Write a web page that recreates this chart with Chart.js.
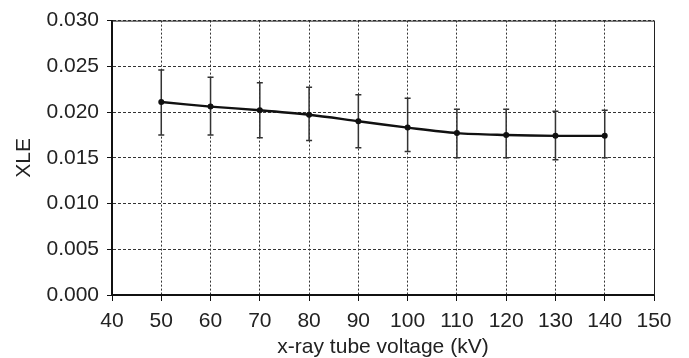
<!DOCTYPE html>
<html>
<head>
<meta charset="utf-8">
<script src="https://cdn.jsdelivr.net/npm/chart.js@4.4.1/dist/chart.umd.min.js"></script>
<style>
  html, body { margin: 0; padding: 0; background: #fff; }
  #wrap { width: 689px; height: 358px; }
</style>
</head>
<body>
<div id="wrap"><canvas id="c" width="689" height="358"></canvas></div>
<script>
// Data
const voltages = [50, 60, 70, 80, 90, 100, 110, 120, 130, 140];
const xleMean  = [0.0211, 0.0206, 0.0202, 0.0197, 0.0190, 0.0183, 0.0177, 0.0175, 0.0174, 0.0174];
const xleUpper = [0.0246, 0.0238, 0.0232, 0.0227, 0.0219, 0.0215, 0.0203, 0.0203, 0.0201, 0.0202];
const xleLower = [0.0175, 0.0175, 0.0172, 0.0169, 0.0161, 0.0157, 0.0150, 0.0150, 0.0148, 0.0150];
const xTicks = [40, 50, 60, 70, 80, 90, 100, 110, 120, 130, 140, 150];
const yTicks = [0.000, 0.005, 0.010, 0.015, 0.020, 0.025, 0.030];

const points = voltages.map((v, i) => ({ x: v, y: xleMean[i] }));

const errorBars = {
  id: 'errorBars',
  beforeDatasetsDraw(chart) {
    const { ctx, scales: { x, y } } = chart;
    ctx.save();
    ctx.strokeStyle = '#333';
    ctx.lineWidth = 1.5;
    voltages.forEach((v, i) => {
      const px = x.getPixelForValue(v);
      const pt = y.getPixelForValue(xleUpper[i]);
      const pb = y.getPixelForValue(xleLower[i]);
      ctx.beginPath();
      ctx.moveTo(px, pt); ctx.lineTo(px, pb);
      ctx.moveTo(px - 3, pt); ctx.lineTo(px + 3, pt);
      ctx.moveTo(px - 3, pb); ctx.lineTo(px + 3, pb);
      ctx.stroke();
    });
    ctx.restore();
  }
};

const frame = {
  id: 'frame',
  afterDraw(chart) {
    const { ctx, chartArea: a } = chart;
    ctx.save();
    ctx.strokeStyle = '#222';
    ctx.lineWidth = 1;
    ctx.setLineDash([]);
    ctx.beginPath();
    ctx.moveTo(a.left, a.top + 0.5);
    ctx.lineTo(a.right + 0.5, a.top + 0.5);
    ctx.lineTo(a.right + 0.5, a.bottom);
    ctx.stroke();
    ctx.restore();
  }
};

const font = { family: '"Liberation Sans", Arial, Helvetica, sans-serif', size: 21 };

new Chart(document.getElementById('c'), {
  type: 'line',
  data: {
    datasets: [{
      data: points,
      borderColor: '#111',
      backgroundColor: '#111',
      borderWidth: 2.4,
      pointRadius: 1.8,
      pointHoverRadius: 1.8,
      tension: 0.3,
      fill: false
    }]
  },
  options: {
    responsive: false,
    animation: false,
    events: [],
    layout: { padding: { left: 0, right: 35, top: 16, bottom: 0 } },
    plugins: { legend: { display: false }, tooltip: { enabled: false } },
    scales: {
      x: {
        type: 'linear',
        min: 40, max: 150,
        afterBuildTicks(scale) { scale.ticks = xTicks.map(v => ({ value: v })); },
        afterFit(scale) { scale.height = 63; },
        ticks: { font, color: '#222', padding: 8, maxRotation: 0, autoSkip: false,
                 callback: v => String(v) },
        grid: { color: '#333', lineWidth: 1, tickColor: '#111',
                tickLength: 6, tickBorderDash: [] },
        border: { display: true, color: '#111', width: 2, dash: [2, 2] },
        title: { display: true, text: 'x-ray tube voltage (kV)', font: { ...font, lineHeight: 1 },
                 color: '#222', padding: { top: 0, bottom: 0 } }
      },
      y: {
        min: 0, max: 0.03,
        afterBuildTicks(scale) { scale.ticks = yTicks.map(v => ({ value: v })); },
        afterFit(scale) { scale.width = 112; },
        ticks: { font, color: '#222', padding: 8, callback: v => Number(v).toFixed(3) },
        grid: { color: '#333', lineWidth: 1, tickColor: '#111',
                tickLength: 5, tickBorderDash: [] },
        border: { display: true, color: '#111', width: 2, dash: [3, 2] },
        title: { display: true, text: 'XLE', font: { ...font, lineHeight: 1 },
                 color: '#222', padding: { top: 14, bottom: 0 } }
      }
    }
  },
  plugins: [errorBars, frame]
});
</script>
</body>
</html>
